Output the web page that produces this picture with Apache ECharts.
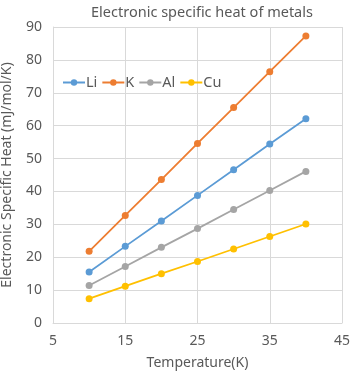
<!DOCTYPE html>
<html>
<head>
<meta charset="utf-8">
<script src="https://cdn.jsdelivr.net/npm/echarts@6/dist/echarts.min.js"></script>
<style>
  html, body { margin: 0; padding: 0; background: #fff; }
  #chart { width: 350px; height: 371px; }
</style>
</head>
<body>
<div id="chart"></div>
<script>
const temps = [10, 15, 20, 25, 30, 35, 40]
const li = [15.5, 23.3, 31.0, 38.8, 46.6, 54.4, 62.1]
const k = [21.8, 32.7, 43.6, 54.6, 65.5, 76.4, 87.3]
const al = [11.4, 17.2, 23.0, 28.7, 34.5, 40.3, 46.1]
const cu = [7.4, 11.2, 15.0, 18.7, 22.5, 26.3, 30.1]
const names = ['Li', 'K', 'Al', 'Cu']
const colors = ['#5B9BD5', '#ED7D31', '#A5A5A5', '#FFC000']

const font = '"Noto Sans", sans-serif'
const grey = '#595959'
const gridColor = '#D9D9D9'

function pairs(ys) {
  return temps.map((t, i) => [t, ys[i]])
}

const chart = echarts.init(document.getElementById('chart'))
chart.setOption({
  animation: false,
  color: colors,
  textStyle: { fontFamily: font },
  title: {
    text: 'Electronic specific heat of metals',
    left: 197,
    textAlign: 'center',
    top: 0,
    textStyle: { fontSize: 14.5, fontWeight: 'normal', color: grey, fontFamily: font },
  },
  legend: {
    data: names,
    left: 57,
    top: 70,
    itemWidth: 22,
    itemHeight: 8,
    itemGap: 4,
    textStyle: { fontSize: 14.5, color: grey, padding: [0, 0, 0, -4] },
  },
  grid: { left: 53, right: 8, top: 27, bottom: 48, outerBoundsMode: 'none' },
  xAxis: {
    type: 'value',
    min: 5,
    max: 45,
    interval: 10,
    name: 'Temperature(K)',
    nameLocation: 'middle',
    nameGap: 33,
    nameTextStyle: { fontSize: 14, color: grey },
    axisLine: { show: true, lineStyle: { color: gridColor } },
    axisTick: { show: false },
    axisLabel: { fontSize: 14, color: grey, margin: 11 },
    splitLine: { show: true, lineStyle: { color: gridColor } },
  },
  yAxis: {
    type: 'value',
    min: 0,
    max: 90,
    interval: 10,
    name: 'Electronic Specific Heat (mJ/mol/K)',
    nameLocation: 'middle',
    nameGap: 39,
    nameTextStyle: { fontSize: 14, color: grey },
    axisLine: { show: true, lineStyle: { color: gridColor } },
    axisTick: { show: false },
    axisLabel: { fontSize: 14, color: grey, margin: 11 },
    splitLine: { show: true, lineStyle: { color: gridColor } },
  },
  series: [li, k, al, cu].map((ys, i) => ({
    name: names[i],
    type: 'line',
    data: pairs(ys),
    symbol: 'circle',
    symbolSize: 7,
    lineStyle: { width: 1.8 },
  })),
})
</script>
</body>
</html>
